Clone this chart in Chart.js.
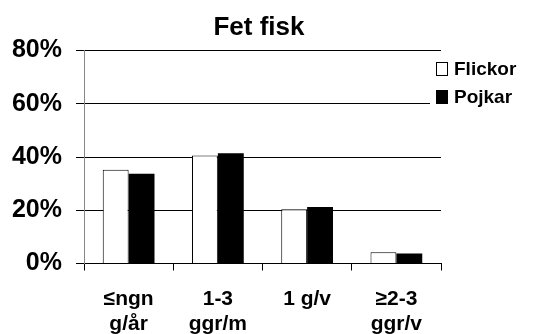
<!DOCTYPE html>
<html><head><meta charset="utf-8">
<script src="https://cdn.jsdelivr.net/npm/chart.js@4"></script>
<style>html,body{margin:0;padding:0;background:#fff}#wrap{width:547px;height:334px}</style>
</head><body><div id="wrap"><canvas id="c" width="547" height="334"></canvas></div>
<script>
const categories = [["≤ngn","g/år"],["1-3","ggr/m"],["1 g/v",""],["≥2-3","ggr/v"]];
const flickor = [35.2, 40.6, 20.4, 4.2];
const pojkar = [33.7, 41.4, 21.2, 3.8];
const yTicks = [0, 20, 40, 60, 80];
const FONT = "'Liberation Sans', Arial, sans-serif";

const legendPlugin = {
  id: 'customLegend',
  afterDraw(chart) {
    const ctx = chart.ctx;
    ctx.save();
    ctx.fillStyle = '#fff';
    ctx.fillRect(430, 58, 117, 50);
    chart.data.datasets.forEach((ds, i) => {
      const y = 62 + i * 28;
      ctx.fillStyle = ds.backgroundColor;
      ctx.fillRect(436.5, y + 0.5, 11, 13);
      ctx.strokeStyle = '#000';
      ctx.lineWidth = 1;
      ctx.strokeRect(436.5, y + 0.5, 11, 13);
      ctx.fillStyle = '#000';
      ctx.font = "bold 19px " + FONT;
      ctx.textBaseline = 'middle';
      ctx.fillText(ds.label, 454, y + 8);
    });
    ctx.restore();
  }
};

new Chart(document.getElementById('c'), {
  type: 'bar',
  data: {
    labels: categories,
    datasets: [
      { label: 'Flickor', data: flickor, backgroundColor: '#ffffff', borderColor: '#000', borderWidth: 1, borderSkipped: 'bottom' },
      { label: 'Pojkar', data: pojkar, backgroundColor: '#000000', borderColor: '#000', borderWidth: 0 }
    ]
  },
  options: {
    responsive: false,
    animation: false,
    devicePixelRatio: 1,
    layout: { padding: { left: 0, right: 29, top: 0, bottom: 0 } },
    plugins: {
      legend: { display: false },
      tooltip: { enabled: false },
      title: {
        display: true, text: 'Fet fisk', color: '#000',
        font: { family: FONT, size: 26, weight: 'bold' },
        padding: { top: 12, bottom: 7.3 }
      }
    },
    datasets: { bar: { categoryPercentage: 0.58, barPercentage: 1 } },
    scales: {
      x: {
        offset: true,
        grid: { display: true, drawOnChartArea: false, drawTicks: true, tickLength: 7, color: '#000', offset: true },
        border: { display: true, color: '#000' },
        ticks: { color: '#000', font: { family: FONT, size: 21, weight: 'bold', lineHeight: 1.2 }, padding: 16, maxRotation: 0, autoSkip: false },
        afterFit(s) { s.height = 70.5; }
      },
      y: {
        min: 0, max: 80,
        afterBuildTicks(s) { s.ticks = yTicks.map(v => ({ value: v })); },
        grid: { color: '#000', tickLength: 8, drawTicks: true },
        border: { display: true, color: '#888' },
        ticks: { color: '#000', font: { family: FONT, size: 25, weight: 'bold' }, padding: 14, callback: v => v + '%' },
        afterFit(s) { s.width = 84; }
      },
      spacer: {
        position: 'right', min: 0, max: 80,
        grid: { display: false, drawOnChartArea: false },
        border: { display: false },
        ticks: { display: false },
        afterFit(s) { s.width = 77; }
      }
    }
  },
  plugins: [legendPlugin]
});
</script></body></html>
